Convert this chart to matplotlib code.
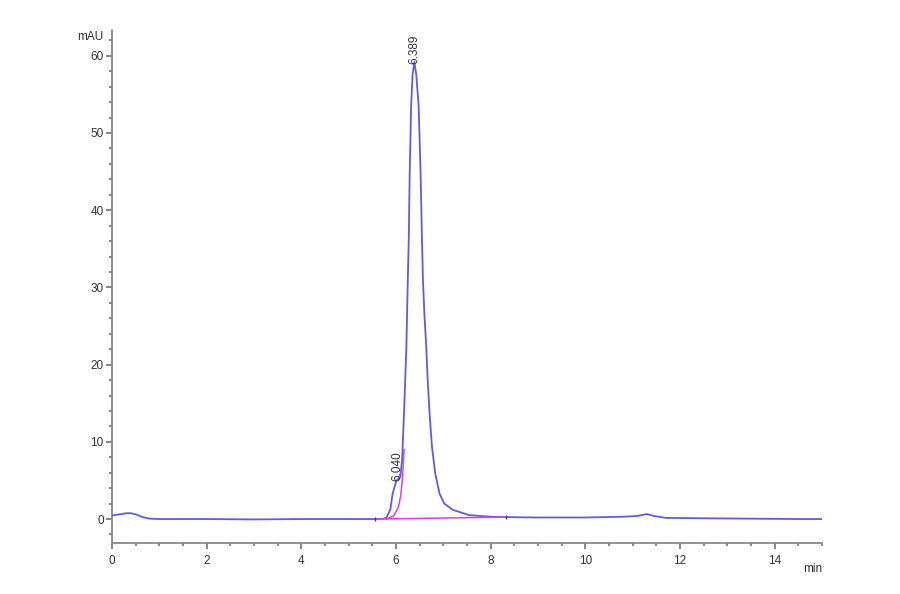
import matplotlib.pyplot as plt
from matplotlib.ticker import MultipleLocator
from matplotlib.transforms import blended_transform_factory

plt.rcParams['font.family'] = ['Liberation Sans', 'DejaVu Sans']

# trace (min, mAU)
tiempo = [0.00, 0.15, 0.30, 0.40, 0.50, 0.65, 0.80, 1.00, 2.00, 3.00, 4.00,
          5.00, 5.60, 5.75, 5.80, 5.88, 5.93, 6.01, 6.05, 6.09, 6.13, 6.17,
          6.22, 6.25, 6.27, 6.29, 6.32, 6.35, 6.389, 6.43, 6.48, 6.52, 6.55,
          6.57, 6.60, 6.64, 6.67, 6.71, 6.76, 6.83, 6.92, 7.02, 7.20, 7.55,
          8.00, 8.33, 9.00, 10.00, 10.80, 11.10, 11.30, 11.45, 11.70, 12.50,
          13.50, 14.50, 15.00]
senal = [0.45, 0.60, 0.75, 0.75, 0.60, 0.25, 0.05, 0.00, 0.00, -0.05, 0.00,
         0.00, 0.00, 0.05, 0.20, 1.20, 3.30, 5.00, 5.20, 5.40, 7.70, 13.7,
         22.3, 31.0, 36.1, 44.8, 53.4, 57.5, 59.2, 57.5, 53.4, 44.8, 36.1,
         31.0, 26.6, 22.3, 18.0, 13.7, 9.4, 5.9, 3.3, 2.0, 1.2, 0.5,
         0.30, 0.25, 0.20, 0.20, 0.30, 0.40, 0.65, 0.40, 0.15, 0.10,
         0.05, 0.00, 0.00]

# integration baseline and main peak drop line (pink)
base_t = [5.55, 8.33]
base_y = [0.00, 0.25]
caida_t = [5.80, 5.95, 6.05, 6.10, 6.14, 6.17]
caida_y = [0.00, 0.40, 1.50, 3.00, 5.50, 9.00]

# peak labels
picos_rt = [6.040, 6.389]
picos_h = [5.2, 59.2]

fig = plt.figure(figsize=(9, 5.94), dpi=100)
ax = fig.add_axes([0.1244, 0.0859, 0.7889, 0.8631])

ax.plot(tiempo, senal, color='#5c5ce8', lw=1.3, zorder=3)
ax.plot(caida_t, caida_y, color='#e040e0', lw=1.1, zorder=2)
ax.plot(base_t, base_y, color='#e040e0', lw=1.1, zorder=4)
ax.plot(base_t, base_y, ls='none', marker='|', ms=3, color='#444444', zorder=5)

for rt, h in zip(picos_rt, picos_h):
    ax.text(rt, h - 0.3, f'{rt:.3f}', rotation=90, ha='center', va='bottom',
            fontsize=8.5, color='#333344', zorder=6)

ax.set_xlim(0, 15)
ax.set_ylim(-3.1, 63.3)
ax.xaxis.set_major_locator(MultipleLocator(2))
ax.xaxis.set_minor_locator(MultipleLocator(0.5))
ax.yaxis.set_major_locator(MultipleLocator(10))
ax.yaxis.set_minor_locator(MultipleLocator(2))

for lado in ['top', 'right']:
    ax.spines[lado].set_visible(False)
for lado in ['left', 'bottom']:
    ax.spines[lado].set_color('#888888')
    ax.spines[lado].set_linewidth(1.3)

ax.tick_params(which='both', direction='out', color='#666666', width=1.1,
               labelsize=8.5, labelcolor='#333333')
ax.tick_params(which='major', length=4)
ax.tick_params(which='minor', length=2.5)
ax.tick_params(axis='x', pad=5)
ax.tick_params(axis='y', pad=2)

trans = blended_transform_factory(ax.transAxes, ax.transData)
ax.text(-0.012, 62.4, 'mAU', transform=trans, ha='right', va='center',
        fontsize=8.5, color='#333333')
ax.text(1.0, -0.05, 'min', transform=ax.transAxes, ha='right', va='center',
        fontsize=8.5, color='#333333')

fig.savefig('out.png', dpi=100)
